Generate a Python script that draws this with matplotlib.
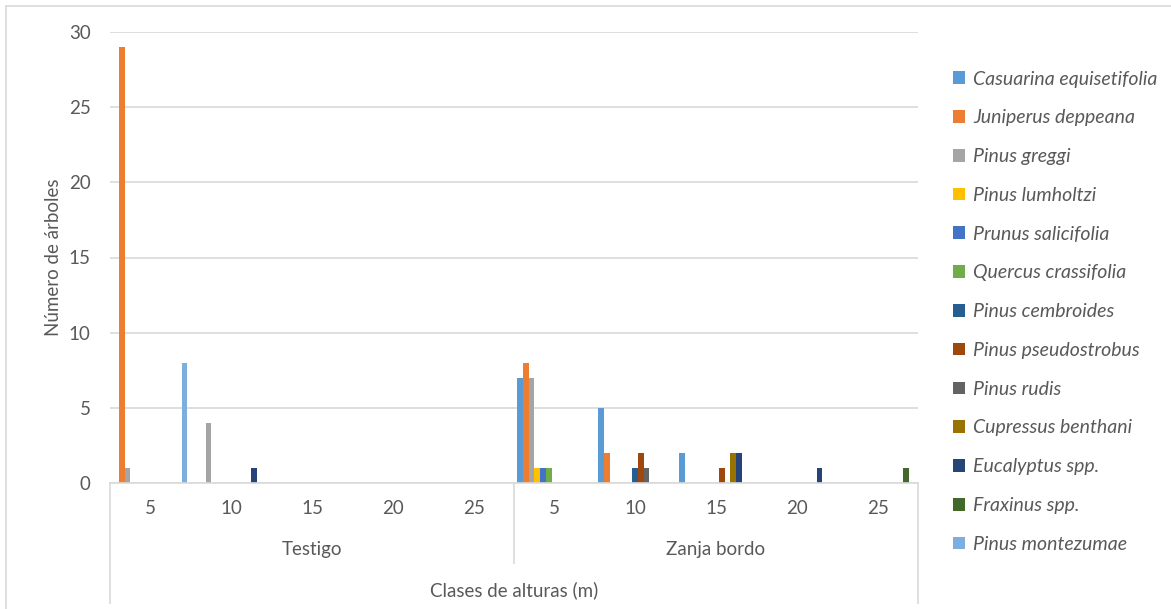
import numpy as np
import matplotlib
matplotlib.use("Agg")
import matplotlib.pyplot as plt
from matplotlib.lines import Line2D
from matplotlib.patches import Patch
from matplotlib.transforms import blended_transform_factory

# height classes (m) inside each treatment
classes = ['5', '10', '15', '20', '25']
groups = ['Testigo', 'Zanja bordo']

species = ['Casuarina equisetifolia', 'Juniperus deppeana', 'Pinus greggi',
           'Pinus lumholtzi', 'Prunus salicifolia', 'Quercus crassifolia',
           'Pinus cembroides', 'Pinus pseudostrobus', 'Pinus rudis',
           'Cupressus benthani', 'Eucalyptus spp.', 'Fraxinus spp.',
           'Pinus montezumae']
colors = ['#5B9BD5', '#ED7D31', '#A5A5A5', '#FFC000', '#4472C4', '#70AD47',
          '#255E91', '#9E480E', '#636363', '#997300', '#264478', '#43682B',
          '#7CAFDD']

# tree counts: Testigo 5..25, then Zanja bordo 5..25
casuarina     = [0, 0, 0, 0, 0, 7, 5, 2, 0, 0]
juniperus     = [29, 0, 0, 0, 0, 8, 2, 0, 0, 0]
greggi        = [1, 4, 0, 0, 0, 7, 0, 0, 0, 0]
lumholtzi     = [0, 0, 0, 0, 0, 1, 0, 0, 0, 0]
prunus        = [0, 0, 0, 0, 0, 1, 0, 0, 0, 0]
quercus       = [0, 0, 0, 0, 0, 1, 0, 0, 0, 0]
cembroides    = [0, 0, 0, 0, 0, 0, 1, 0, 0, 0]
pseudostrobus = [0, 0, 0, 0, 0, 0, 2, 1, 0, 0]
rudis         = [0, 0, 0, 0, 0, 0, 1, 0, 0, 0]
cupressus     = [0, 0, 0, 0, 0, 0, 0, 2, 0, 0]
eucalyptus    = [0, 1, 0, 0, 0, 0, 0, 2, 1, 0]
fraxinus      = [0, 0, 0, 0, 0, 0, 0, 0, 0, 1]
montezumae    = [8, 0, 0, 0, 0, 0, 0, 0, 0, 0]

series = [casuarina, juniperus, greggi, lumholtzi, prunus, quercus,
          cembroides, pseudostrobus, rudis, cupressus, eucalyptus,
          fraxinus, montezumae]

plt.rcParams['font.family'] = ['Lato', 'DejaVu Sans']
txt = '#595959'
grid = '#D9D9D9'
fs = 13.5

W, H = 1171, 609
fig = plt.figure(figsize=(W / 100, H / 100), dpi=100)

def fx(px):
    return px / W

def fy(py):
    return 1 - py / H

left, right, top, base = 110, 918, 32, 483
ax = fig.add_axes([fx(left), fy(base), fx(right - left), (base - top) / H])

n = len(series)
ncat = len(classes) * len(groups)
w = 0.0705
gap = (1 - n * w) / 2
x = np.arange(ncat)
for j, (vals, c) in enumerate(zip(series, colors)):
    ax.bar(x + gap + j * w, vals, w, align='edge', color=c, linewidth=0)

ax.set_xlim(0, ncat)
ax.set_ylim(0, 30)
ax.set_yticks(range(0, 31, 5))
ax.tick_params(axis='y', length=0, pad=14, labelsize=fs, labelcolor=txt)
ax.set_xticks([])
ax.yaxis.grid(True, color=grid, linewidth=1.2)
ax.set_axisbelow(True)
for s in ['top', 'right', 'left']:
    ax.spines[s].set_visible(False)
ax.spines['bottom'].set_color(grid)
ax.spines['bottom'].set_linewidth(1.2)
ax.set_ylabel('Número de árboles', fontsize=fs, color=txt, labelpad=5)

# category labels below the axis
tr = blended_transform_factory(ax.transData, fig.transFigure)
labels = classes * len(groups)
for i, lab in enumerate(labels):
    ax.text(i + 0.5, fy(508), lab, transform=tr, ha='center', va='center',
            fontsize=fs, color=txt)
for g, name in enumerate(groups):
    ax.text(g * 5 + 2.5, fy(550), name, transform=tr, ha='center',
            va='center', fontsize=fs, color=txt)
ax.text(5, fy(590), 'Clases de alturas (m)', transform=tr, ha='center',
        va='center', fontsize=fs, color=txt)

# bracket lines of the multi-level category axis
for xp, yb in [(left, 603), (right, 603), (513.5, 563)]:
    fig.add_artist(Line2D([fx(xp), fx(xp)], [fy(base), fy(yb)],
                          color=grid, linewidth=1.2))

# chart border (top and left edges)
fig.add_artist(Line2D([fx(6), fx(6)], [fy(6), 0], color=grid, linewidth=1.2))
fig.add_artist(Line2D([fx(6), 1], [fy(6), fy(6)], color=grid, linewidth=1.2))

handles = [Patch(facecolor=c, edgecolor='none') for c in colors]
leg = fig.legend(handles, species, loc='upper left',
                 bbox_to_anchor=(fx(935), fy(53)), frameon=False,
                 prop={'style': 'italic', 'size': 14},
                 handlelength=0.62, handleheight=0.62, handletextpad=0.45,
                 labelspacing=1.12, labelcolor=txt)

fig.savefig('out.png', dpi=100)
